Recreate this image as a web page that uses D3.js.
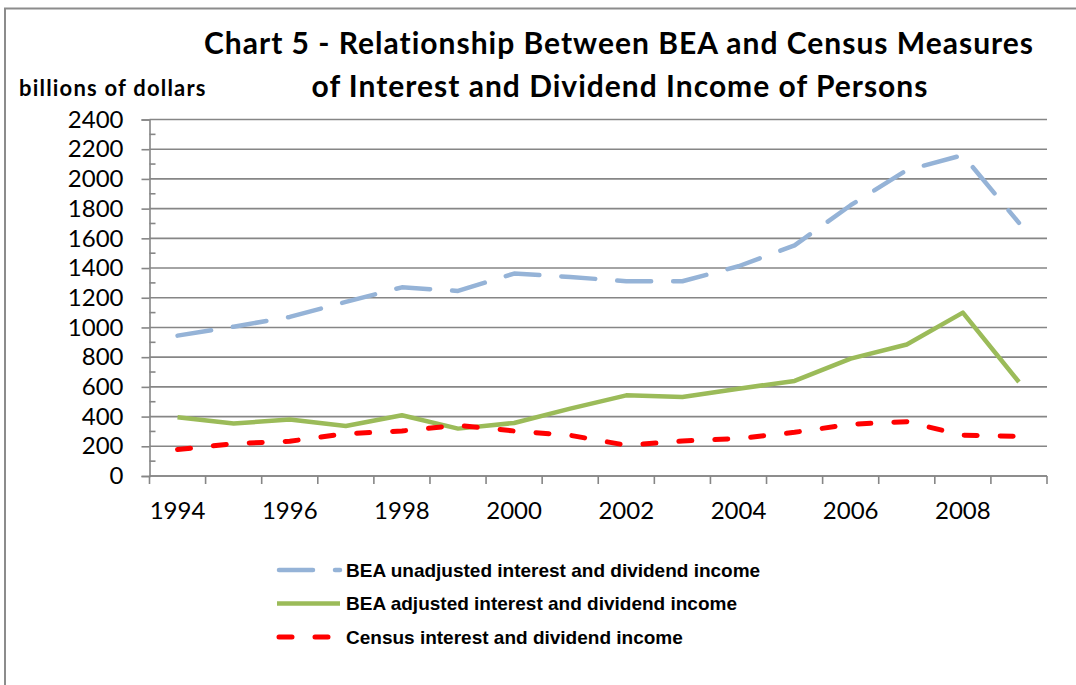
<!DOCTYPE html>
<html>
<head>
<meta charset="utf-8">
<script src="https://cdn.jsdelivr.net/npm/d3@7"></script>
<style>
  body { margin: 0; background: #fff; }
  svg { display: block; }
</style>
</head>
<body>
<div id="chart"></div>
<script>
// data (billions of dollars)
var years = [1994, 1995, 1996, 1997, 1998, 1999, 2000, 2001, 2002, 2003, 2004, 2005, 2006, 2007, 2008, 2009];
var beaUnadjusted = [945, 1005, 1071, 1172, 1270, 1246, 1363, 1340, 1311, 1311, 1412, 1553, 1823, 2059, 2160, 1704];
var beaAdjusted = [395, 353, 380, 337, 409, 319, 357, 454, 543, 532, 588, 640, 790, 885, 1100, 633];
var census = [178, 218, 234, 285, 303, 341, 303, 274, 207, 236, 252, 294, 348, 366, 274, 267];
var yTicks = [0, 200, 400, 600, 800, 1000, 1200, 1400, 1600, 1800, 2000, 2200, 2400];
var xLabels = [1994, 1996, 1998, 2000, 2002, 2004, 2006, 2008];

var series = [
  {name: "BEA unadjusted interest and dividend income", values: beaUnadjusted, color: "#95b3d7", width: 4.5, dash: "34,22"},
  {name: "BEA adjusted interest and dividend income", values: beaAdjusted, color: "#9bbb59", width: 4.5, dash: null},
  {name: "Census interest and dividend income", values: census, color: "#ff0000", width: 5, dash: "13,23"}
];

var W = 1076, H = 685;
var margin = {top: 119.5, left: 149.5, right: 29, bottom: 209};
var width = W - margin.left - margin.right,
    height = H - margin.top - margin.bottom;

var font = "Lato, Carlito, sans-serif";

var svg = d3.select("#chart")
  .append("svg")
  .attr("width", W)
  .attr("height", H);

// outer frame (top and left edge only visible)
svg.append("path")
  .attr("d", "M5,690 V8.5 H1080")
  .attr("fill", "none")
  .attr("stroke", "#8c8c8c")
  .attr("stroke-width", 2);

var chart = svg.append("g")
  .attr("transform", "translate(" + margin.left + "," + margin.top + ")");

var x = d3.scaleBand()
  .domain(years)
  .range([0, width]);

var y = d3.scaleLinear()
  .domain([0, 2400])
  .range([height, 0]);

var axisColor = "#868686";

// gridlines
chart.append("g")
  .selectAll("line")
  .data(yTicks)
  .enter()
  .append("line")
  .attr("x1", 0)
  .attr("x2", width)
  .attr("y1", d => y(d))
  .attr("y2", d => y(d))
  .attr("stroke", axisColor)
  .attr("stroke-width", 1.6);

// minor ticks inside the y axis
chart.append("g")
  .selectAll("line")
  .data(yTicks.slice(0, -1).map(d => d + 100))
  .enter()
  .append("line")
  .attr("x1", 0)
  .attr("x2", 6)
  .attr("y1", d => y(d))
  .attr("y2", d => y(d))
  .attr("stroke", axisColor)
  .attr("stroke-width", 1.6);

// y axis
var yAxis = chart.append("g")
  .call(d3.axisLeft(y).tickValues(yTicks).tickFormat(d3.format("d")).tickSize(8).tickPadding(18));
yAxis.selectAll("text")
  .style("font-family", font)
  .style("font-size", "24px")
  .attr("fill", "#000");
yAxis.select(".domain").attr("stroke", axisColor).attr("stroke-width", 1.6);
yAxis.selectAll(".tick line").attr("stroke", axisColor).attr("stroke-width", 1.6);

// x axis: ticks at band edges, labels on every other year
var xAxis = chart.append("g")
  .attr("transform", "translate(0," + height + ")");
xAxis.append("line")
  .attr("x1", 0).attr("x2", width)
  .attr("stroke", axisColor).attr("stroke-width", 1.6);
xAxis.selectAll("line.tick")
  .data(d3.range(years.length + 1))
  .enter()
  .append("line")
  .attr("class", "tick")
  .attr("x1", i => i * x.step())
  .attr("x2", i => i * x.step())
  .attr("y1", 0)
  .attr("y2", 8)
  .attr("stroke", axisColor)
  .attr("stroke-width", 1.6);
xAxis.selectAll("text")
  .data(xLabels)
  .enter()
  .append("text")
  .attr("x", d => x(d) + x.bandwidth() / 2)
  .attr("y", 43)
  .attr("text-anchor", "middle")
  .style("font-family", font)
  .style("font-size", "24px")
  .text(d => d);

// lines
var line = d3.line()
  .x((d, i) => x(years[i]) + x.bandwidth() / 2)
  .y(d => y(d));

chart.selectAll("path.series")
  .data(series)
  .enter()
  .append("path")
  .attr("class", "series")
  .attr("d", d => line(d.values))
  .attr("fill", "none")
  .attr("stroke", d => d.color)
  .attr("stroke-width", d => d.width)
  .attr("stroke-dasharray", d => d.dash)
  .attr("stroke-linecap", d => d.dash ? "round" : "butt")
  .attr("stroke-linejoin", "round");

// title
var title = svg.append("text")
  .attr("text-anchor", "middle")
  .style("font-family", font)
  .style("font-weight", "bold")
  .style("font-size", "30px")
  .style("letter-spacing", "1px");
title.append("tspan").attr("x", 619).attr("y", 54).text("Chart 5 - Relationship Between BEA and Census Measures");
title.append("tspan").attr("x", 620).attr("y", 97).text("of Interest and Dividend Income of Persons");

svg.append("text")
  .attr("x", 19)
  .attr("y", 96)
  .style("font-family", font)
  .style("font-weight", "bold")
  .style("font-size", "22px")
  .style("letter-spacing", "1.2px")
  .text("billions of dollars");

// legend
var legend = svg.append("g")
  .attr("transform", "translate(277,570)");
var item = legend.selectAll("g")
  .data(series)
  .enter()
  .append("g")
  .attr("transform", (d, i) => "translate(0," + i * 33.5 + ")");
item.append("line")
  .attr("x1", d => d.dash ? 2 : 0)
  .attr("x2", 63)
  .attr("stroke", d => d.color)
  .attr("stroke-width", d => d.width)
  .attr("stroke-dasharray", d => d.dash)
  .attr("stroke-linecap", d => d.dash ? "round" : "butt");
item.append("text")
  .attr("x", 69)
  .attr("dy", "0.35em")
  .style("font-family", "'Liberation Sans', Arial, sans-serif")
  .style("font-weight", "bold")
  .style("font-size", "19px")
  .text(d => d.name);
</script>
</body>
</html>
